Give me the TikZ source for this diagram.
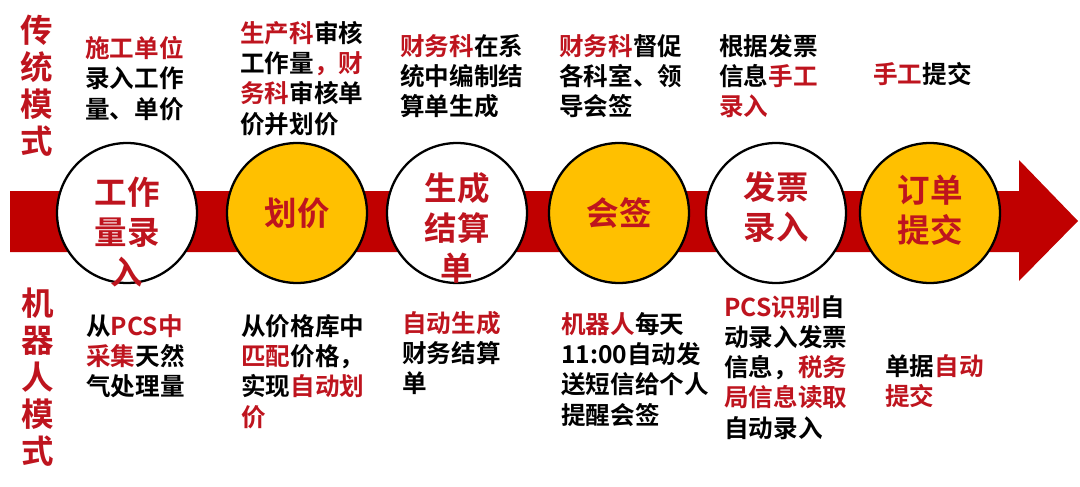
\documentclass[tikz,border=0pt]{standalone}
\usepackage{fontspec}
\setmainfont{Noto Sans CJK SC}[BoldFont={Noto Sans CJK SC Bold}]
\definecolor{bandred}{RGB}{192,0,0}
\definecolor{txtred}{RGB}{190,20,30}
\definecolor{stageyellow}{RGB}{255,192,0}
\newcommand{\hl}[1]{\textcolor{txtred}{#1}}

\tikzset{
  stage/.style={circle, draw=black, line width=1.3pt,
                minimum size=2.8cm, inner sep=0pt},
  stagetext/.style={align=center, text=txtred, inner sep=0pt,
                    font=\bfseries\fontsize{18.5}{22.7}\selectfont},
  desc/.style={anchor=north west, inner sep=0pt, align=left,
               font=\bfseries\fontsize{14}{17.2}\selectfont},
  modelabel/.style={align=center, text=txtred, inner sep=0pt,
                    font=\bfseries\fontsize{18.5}{21}\selectfont},
}

\begin{document}
\begin{tikzpicture}[x=0.02cm, y=-0.02cm]
  \useasboundingbox (0,0) rectangle (1080,487);

  % ── flow band ────────────────────────────────────────────────────────────
  \fill[bandred] (10,191) -- (1019,191) -- (1019,160) -- (1078,221)
    -- (1019,281) -- (1019,252) -- (10,252) -- cycle;

  % ── stages ──────────────────────────────────────────────────────────────
  \node[stage, fill=white]       (c1) at (127,213) {};
  \node[stage, fill=stageyellow] (c2) at (297,213) {};
  \node[stage, fill=white]       (c3) at (457,213) {};
  \node[stage, fill=stageyellow] (c4) at (619,213) {};
  \node[stage, fill=white]       (c5) at (776,213) {};
  \node[stage, fill=stageyellow] (c6) at (930,213) {};

  \node[stagetext] (s1) at ([yshift=-0.38cm]c1) {工作\\量录\\入};
  \node[stagetext] (s2) at (c2) {划价};
  \node[stagetext] (s3) at ([yshift=-0.30cm]c3) {生成\\结算\\单};
  \node[stagetext] (s4) at (c4) {会签};
  \node[stagetext] (s5) at ([yshift=0.12cm]c5) {发票\\录入};
  \node[stagetext] (s6) at ([yshift=0.06cm]c6) {订单\\提交};

  % ── mode labels ─────────────────────────────────────────────────────────
  \node[modelabel] (trad)  at (37,86)  {传\\统\\模\\式};
  \node[modelabel] (robot) at (38,377) {机\\器\\人\\模\\式};

  % traditional mode
  \node[desc] (top1) at (85,36)  {\hl{施工单位}\\录入工作\\量、单价};
  \node[desc] (top2) at (240,21) {\hl{生产科}审核\\工作量\hl{，财}\\\hl{务科}审核单\\价并划价};
  \node[desc] (top3) at (400,34) {\hl{财务科}在系\\统中编制结\\算单生成};
  \node[desc] (top4) at (559,34) {\hl{财务科}督促\\各科室、领\\导会签};
  \node[desc] (top5) at (719,34) {根据发票\\信息\hl{手工}\\\hl{录入}};
  \node[desc] (top6) at (873,62) {\hl{手工}提交};

  % robot mode
  \node[desc] (bot1) at (86,314)  {从\hl{PCS中}\\\hl{采集}天然\\气处理量};
  \node[desc] (bot2) at (241,314) {从价格库中\\\hl{匹配}价格，\\实现\hl{自动划}\\\hl{价}};
  \node[desc] (bot3) at (402,311) {\hl{自动生成}\\财务结算\\单};
  \node[desc] (bot4) at (561,312) {\hl{机器人}每天\\11:00自动发\\送短信给个人\\提醒会签};
  \node[desc] (bot5) at (724,295) {\hl{PCS识别}自\\动录入发票\\信息，\hl{税务}\\\hl{局信息读取}\\自动录入};
  \node[desc] (bot6) at (885,354) {单据\hl{自动}\\\hl{提交}};

\end{tikzpicture}
\end{document}
